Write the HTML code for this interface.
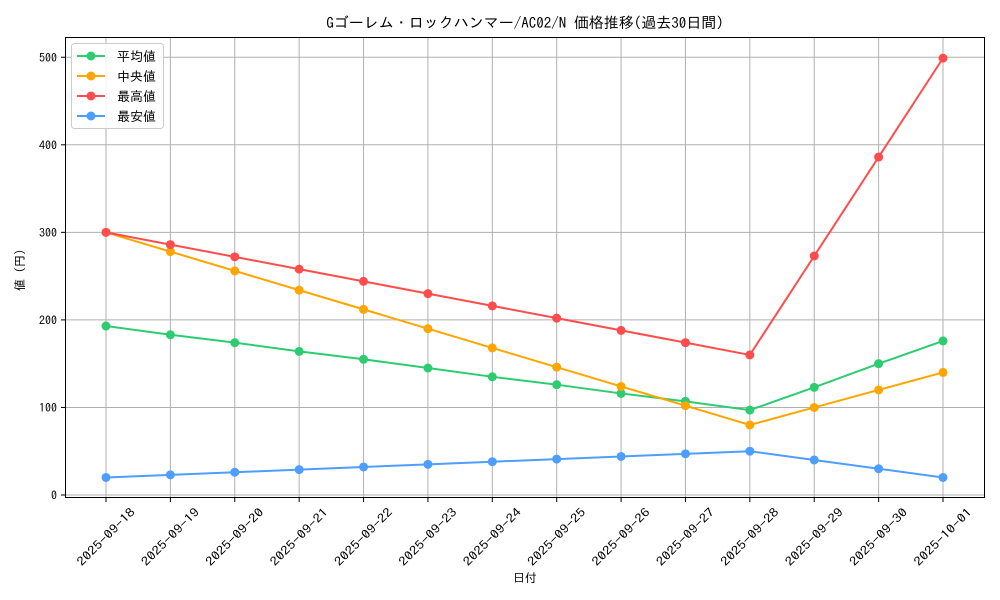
<!DOCTYPE html>
<html><head><meta charset="utf-8"><style>body{margin:0;background:#fff}svg{display:block}text{font-family:"IPAGothic","Noto Sans CJK JP",sans-serif;fill:#000}</style></head>
<body>
<svg width="1000" height="600" xmlns="http://www.w3.org/2000/svg">
<rect width="1000" height="600" fill="#fff"/>
<g id="grid" stroke="#b0b0b0" stroke-width="1"></g>
<g id="series"></g>
<rect x="65.5" y="37.5" width="919" height="460" fill="none" stroke="#000" stroke-width="1"/>
<g id="ticks"></g>
<text x="525" y="28" font-size="15" text-anchor="middle">Gゴーレム・ロックハンマー/AC02/N 価格推移(過去30日間)</text>
<text x="525" y="582" font-size="12" text-anchor="middle">日付</text>
<text x="24" y="270" font-size="12" text-anchor="middle" transform="rotate(-90 24 270)">値 (円)</text>
<g>
<rect x="71.5" y="43.5" width="92" height="85" rx="3" fill="#fff" fill-opacity="0.85" stroke="#ccc"/>
<line x1="77" y1="56" x2="105" y2="56" stroke="#2ecc71" stroke-width="2"/><circle cx="91" cy="56" r="4.5" fill="#2ecc71"/><text x="117" y="61" font-size="13">平均値</text>
<line x1="77" y1="76" x2="105" y2="76" stroke="#ffa500" stroke-width="2"/><circle cx="91" cy="76" r="4.5" fill="#ffa500"/><text x="117" y="81" font-size="13">中央値</text>
<line x1="77" y1="96" x2="105" y2="96" stroke="#ff4d4d" stroke-width="2"/><circle cx="91" cy="96" r="4.5" fill="#ff4d4d"/><text x="117" y="101" font-size="13">最高値</text>
<line x1="77" y1="116" x2="105" y2="116" stroke="#4d9eff" stroke-width="2"/><circle cx="91" cy="116" r="4.5" fill="#4d9eff"/><text x="117" y="121" font-size="13">最安値</text>
</g>
<script>
var ns="http://www.w3.org/2000/svg";
function el(t,a,p){var e=document.createElementNS(ns,t);for(var k in a)e.setAttribute(k,a[k]);p.appendChild(e);return e;}
var X=i=>106+i*64.385, Y=v=>495-v*0.8755;
var g=document.getElementById('grid'),tk=document.getElementById('ticks'),s=document.getElementById('series');
var dates=["2025-09-18","2025-09-19","2025-09-20","2025-09-21","2025-09-22","2025-09-23","2025-09-24","2025-09-25","2025-09-26","2025-09-27","2025-09-28","2025-09-29","2025-09-30","2025-10-01"];
dates.forEach((d,i)=>{var x=X(i);el('line',{x1:x,y1:37,x2:x,y2:497},g);el('line',{x1:x,y1:498,x2:x,y2:502,stroke:'#000'},tk);
var cy=541;var t=el('text',{x:x,y:cy,'font-size':12,'text-anchor':'middle',textLength:76,lengthAdjust:'spacingAndGlyphs',transform:'rotate(-45 '+x+' '+(cy-4)+')'},tk);t.textContent=d;});
for(var v=0;v<=500;v+=100){var y=Y(v);el('line',{x1:65,y1:y,x2:985,y2:y},g);el('line',{x1:61,y1:y,x2:65,y2:y,stroke:'#000'},tk);var t=el('text',{x:57,y:y+4.5,'font-size':12,'text-anchor':'end'},tk);t.textContent=v;}
var data=[["#2ecc71",[193,183,174,164,155,145,135,126,116,107,97,123,150,176]],
["#ffa500",[300,278,256,234,212,190,168,146,124,102,80,100,120,140]],
["#ff4d4d",[300,286,272,258,244,230,216,202,188,174,160,273,386,499]],
["#4d9eff",[20,23,26,29,32,35,38,41,44,47,50,40,30,20]]];
data.forEach(d=>{el('polyline',{points:d[1].map((v,i)=>X(i)+','+Y(v)).join(' '),fill:'none',stroke:d[0],'stroke-width':2},s);
d[1].forEach((v,i)=>el('circle',{cx:X(i),cy:Y(v),r:4.5,fill:d[0]},s));});
</script>
</svg>
</body></html>
